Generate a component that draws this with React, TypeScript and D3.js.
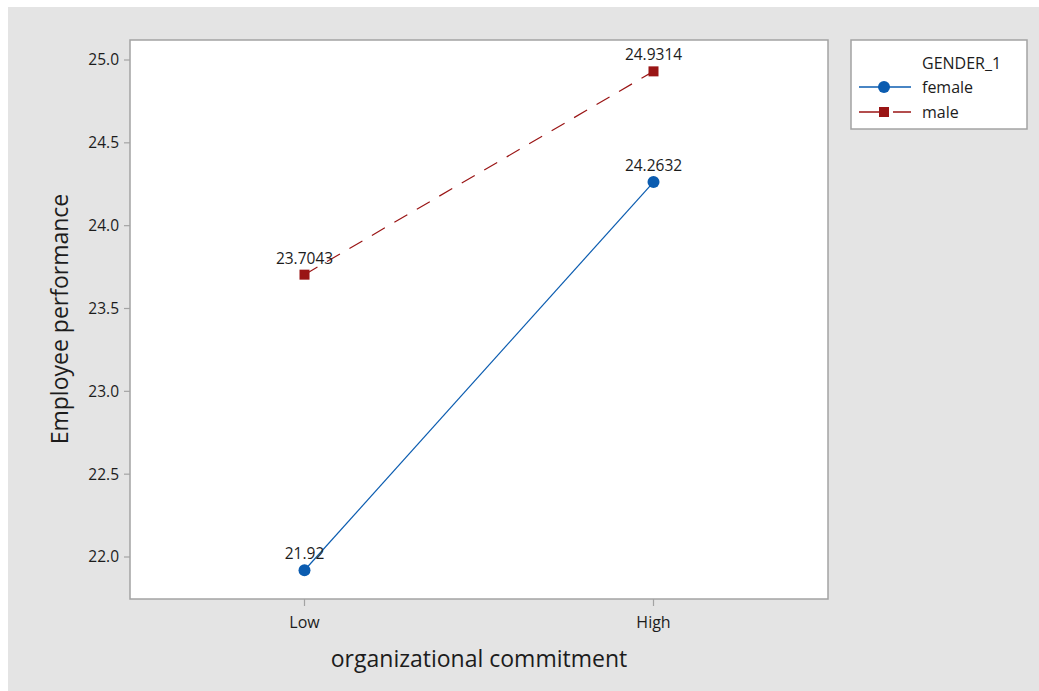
import React from "react";
import * as d3 from "d3";

const categories = ["Low", "High"];
const femaleValues = [21.92, 24.2632];
const maleValues = [23.7043, 24.9314];
const femaleLabels = ["21.92", "24.2632"];
const maleLabels = ["23.7043", "24.9314"];
const yTicks = [22.0, 22.5, 23.0, 23.5, 24.0, 24.5, 25.0];

const W = 1039, H = 691;
const plot = { left: 130, top: 40, right: 828, bottom: 599 };
const FONT = "'Open Sans', 'Noto Sans', sans-serif";
const BLUE = "#0B5CB0";
const RED = "#9A1515";
const TXT = "#1c1c1c";

export default function App() {
  const x = d3.scalePoint<string>().domain(categories).range([plot.left, plot.right]).padding(0.5);
  const y = d3.scaleLinear().domain([22.0, 25.0]).range([557, 60]);
  const line = d3.line<[string, number]>().x(d => x(d[0])!).y(d => y(d[1]));
  const fData = categories.map((c, i) => [c, femaleValues[i]] as [string, number]);
  const mData = categories.map((c, i) => [c, maleValues[i]] as [string, number]);

  return (
    <svg width={W} height={H} style={{ position: "absolute", left: 0, top: 0 }} fontFamily={FONT}>
      <rect x={0} y={0} width={W} height={H} fill="#fff" />
      <rect x={8} y={7} width={W - 8} height={H - 7} fill="#e4e4e4" />
      <rect x={plot.left} y={plot.top} width={plot.right - plot.left} height={plot.bottom - plot.top} fill="#fff" stroke="#a3a3a3" strokeWidth={1.5} />
      {yTicks.map(t => (
        <g key={t}>
          <line x1={plot.left - 6} x2={plot.left} y1={y(t)} y2={y(t)} stroke="#a3a3a3" strokeWidth={1.2} />
          <text x={plot.left - 11} y={y(t)} dy="0.35em" textAnchor="end" fontSize={15.5} fill={TXT}>{t.toFixed(1)}</text>
        </g>
      ))}
      {categories.map(c => (
        <g key={c}>
          <line x1={x(c)} x2={x(c)} y1={plot.bottom} y2={plot.bottom + 7} stroke="#a3a3a3" strokeWidth={1.2} />
          <text x={x(c)} y={622} dy="0.35em" textAnchor="middle" fontSize={16} fill={TXT}>{c}</text>
        </g>
      ))}
      <text x={(plot.left + plot.right) / 2} y={667} textAnchor="middle" fontSize={23} fill={TXT}>organizational commitment</text>
      <text transform={`translate(68,319) rotate(-90)`} textAnchor="middle" fontSize={23} fill={TXT}>Employee performance</text>

      <path d={line(mData)!} fill="none" stroke={RED} strokeWidth={1.2} strokeDasharray="15 11" />
      <path d={line(fData)!} fill="none" stroke={BLUE} strokeWidth={1.2} />
      {mData.map((d, i) => (
        <g key={"m" + i}>
          <rect x={x(d[0])! - 5} y={y(d[1]) - 5} width={10} height={10} fill={RED} />
          <text x={x(d[0])} y={y(d[1]) - 11} textAnchor="middle" fontSize={15.5} fill={TXT}>{maleLabels[i]}</text>
        </g>
      ))}
      {fData.map((d, i) => (
        <g key={"f" + i}>
          <circle cx={x(d[0])} cy={y(d[1])} r={6} fill={BLUE} />
          <text x={x(d[0])} y={y(d[1]) - 11} textAnchor="middle" fontSize={15.5} fill={TXT}>{femaleLabels[i]}</text>
        </g>
      ))}

      <g>
        <rect x={851} y={40} width={176} height={89} fill="#fff" stroke="#a3a3a3" strokeWidth={1.5} />
        <text x={922} y={63} dy="0.35em" fontSize={16} fill={TXT}>GENDER_1</text>
        <line x1={859} x2={911} y1={87} y2={87} stroke={BLUE} strokeWidth={1.5} />
        <circle cx={884} cy={87} r={6} fill={BLUE} />
        <text x={922} y={87} dy="0.35em" fontSize={16} fill={TXT}>female</text>
        <line x1={859} x2={911} y1={112} y2={112} stroke={RED} strokeWidth={1.5} strokeDasharray="22 6 2 4" />
        <rect x={879} y={107} width={10} height={10} fill={RED} />
        <text x={922} y={112} dy="0.35em" fontSize={16} fill={TXT}>male</text>
      </g>
    </svg>
  );
}
